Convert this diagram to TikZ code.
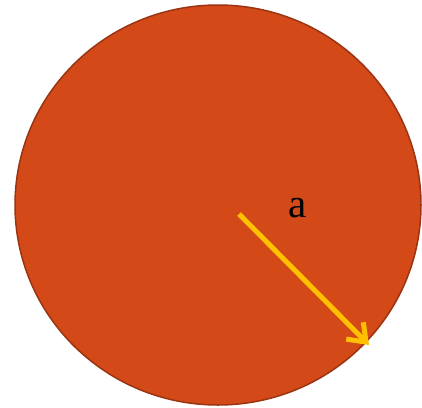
\documentclass[tikz,border=0pt]{standalone}
\usepackage{fontspec}
\setmainfont{Liberation Serif}
\usetikzlibrary{arrows.meta}
\definecolor{discfill}{HTML}{D34A18}
\definecolor{discedge}{HTML}{9A3412}
\definecolor{arrowgold}{HTML}{FFC000}
\begin{document}
\begin{tikzpicture}[x=1pt,y=-1pt,
  radius arrow/.style={draw=arrowgold, line width=5pt, -{Straight Barb[length=16pt,width=24pt,line width=5pt]}},
  lbl/.style={font=\fontsize{41}{43}\selectfont, text=black, inner sep=0pt}]
\useasboundingbox (0,0) rectangle (422,407);
\fill[discfill, draw=discedge, line width=1.5pt] (218,205) ellipse [x radius=203pt, y radius=200pt];
\coordinate (c) at (239,214);
\coordinate (e) at (369,345);
\draw[radius arrow] (c) -- (e);
\node[lbl] (a) at (298,208) {a};
\end{tikzpicture}
\end{document}
